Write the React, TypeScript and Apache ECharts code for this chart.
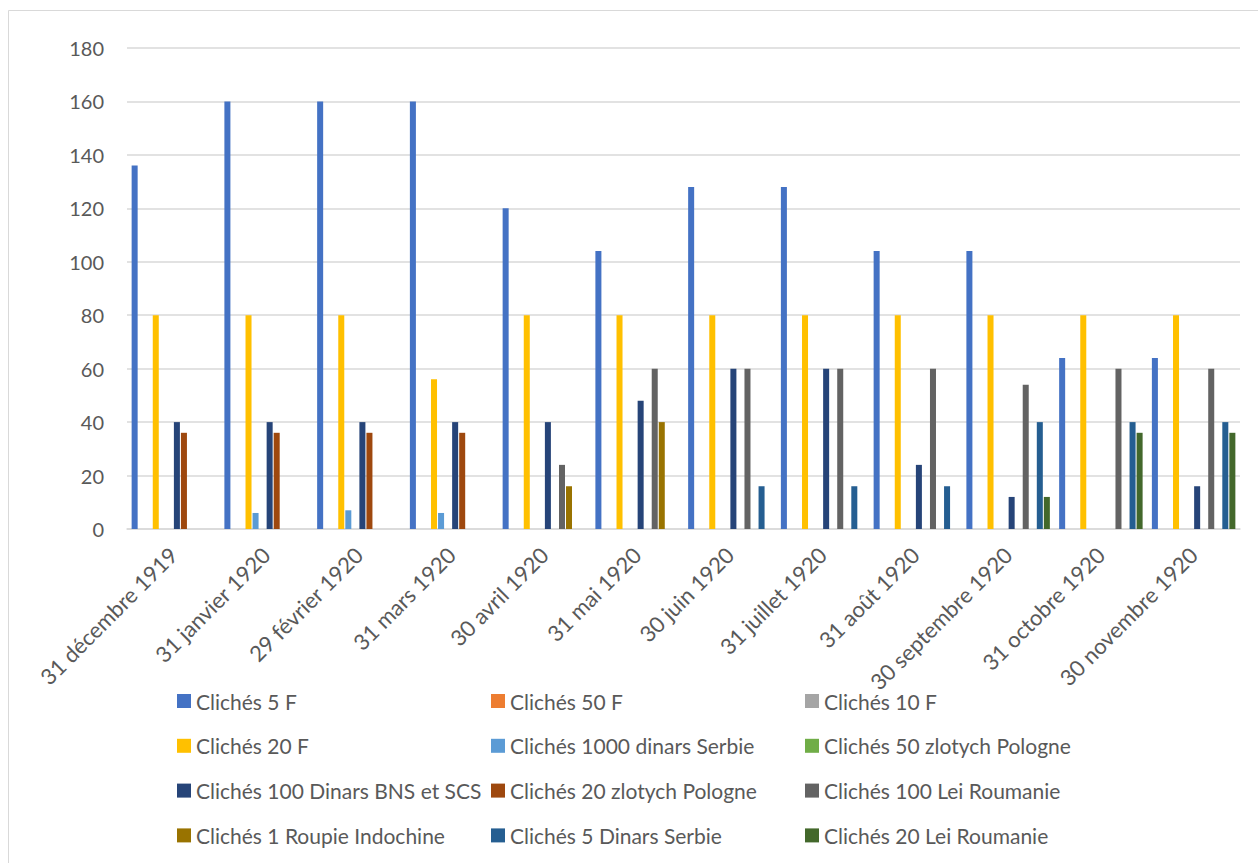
import React, { useEffect, useRef } from "react";
import * as echarts from "echarts";

const categories = [
  "31 décembre 1919",
  "31 janvier 1920",
  "29 février 1920",
  "31 mars 1920",
  "30 avril 1920",
  "31 mai 1920",
  "30 juin 1920",
  "31 juillet 1920",
  "31 août 1920",
  "30 septembre 1920",
  "31 octobre 1920",
  "30 novembre 1920",
];

const seriesNames = [
  "Clichés 5 F",
  "Clichés 50 F",
  "Clichés 10 F",
  "Clichés 20 F",
  "Clichés 1000 dinars Serbie",
  "Clichés 50 zlotych Pologne",
  "Clichés 100 Dinars BNS et SCS",
  "Clichés 20 zlotych Pologne",
  "Clichés 100 Lei Roumanie",
  "Clichés 1 Roupie Indochine",
  "Clichés 5 Dinars Serbie",
  "Clichés 20 Lei Roumanie",
];

const colors = [
  "#4472C4",
  "#ED7D31",
  "#A5A5A5",
  "#FFC000",
  "#5B9BD5",
  "#70AD47",
  "#264478",
  "#9E480E",
  "#636363",
  "#997300",
  "#255E91",
  "#43682B",
];

const cliches5F = [136, 160, 160, 160, 120, 104, 128, 128, 104, 104, 64, 64];
const cliches50F = [0, 0, 0, 0, 0, 0, 0, 0, 0, 0, 0, 0];
const cliches10F = [0, 0, 0, 0, 0, 0, 0, 0, 0, 0, 0, 0];
const cliches20F = [80, 80, 80, 56, 80, 80, 80, 80, 80, 80, 80, 80];
const cliches1000Dinars = [0, 6, 7, 6, 0, 0, 0, 0, 0, 0, 0, 0];
const cliches50Zlotych = [0, 0, 0, 0, 0, 0, 0, 0, 0, 0, 0, 0];
const cliches100DinarsBNS = [40, 40, 40, 40, 40, 48, 60, 60, 24, 12, 0, 16];
const cliches20Zlotych = [36, 36, 36, 36, 0, 0, 0, 0, 0, 0, 0, 0];
const cliches100Lei = [0, 0, 0, 0, 24, 60, 60, 60, 60, 54, 60, 60];
const cliches1Roupie = [0, 0, 0, 0, 16, 40, 0, 0, 0, 0, 0, 0];
const cliches5Dinars = [0, 0, 0, 0, 0, 0, 16, 16, 16, 40, 40, 40];
const cliches20Lei = [0, 0, 0, 0, 0, 0, 0, 0, 0, 12, 36, 36];

const seriesValues = [
  cliches5F,
  cliches50F,
  cliches10F,
  cliches20F,
  cliches1000Dinars,
  cliches50Zlotych,
  cliches100DinarsBNS,
  cliches20Zlotych,
  cliches100Lei,
  cliches1Roupie,
  cliches5Dinars,
  cliches20Lei,
];

const yTicks = { min: 0, max: 180, interval: 20 };

export default function App() {
  const ref = useRef<HTMLDivElement>(null);

  useEffect(() => {
    if (!ref.current) return;
    const chart = echarts.init(ref.current, null, { renderer: "svg" });
    const font = "Lato, 'Open Sans', sans-serif";
    const textColor = "#595959";

    const legends = seriesNames.map((name, i) => {
      const row = Math.floor(i / 3);
      const col = i % 3;
      return {
        show: true,
        orient: "horizontal",
        left: 177 + col * 314,
        top: 690.5 + row * 44.8,
        padding: 0,
        itemWidth: 14,
        itemHeight: 14,
        itemGap: 0,
        icon: "rect",
        selectedMode: false,
        data: [name],
        textStyle: {
          color: textColor,
          fontSize: 21,
          fontFamily: font,
          padding: [0, 0, 0, 0],
        },
      };
    });

    chart.setOption({
      animation: false,
      color: colors,
      graphic: [
        {
          type: "rect",
          shape: { x: 8.5, y: 10.5, width: 1300, height: 900 },
          style: { fill: "none", stroke: "#D9D9D9", lineWidth: 1 },
          silent: true,
        },
      ],
      grid: { left: 127, right: 18, top: 48, bottom: 334, containLabel: false },
      legend: legends,
      xAxis: {
        type: "category",
        data: categories,
        axisLine: { show: true, lineStyle: { color: "#D9D9D9", width: 1.5 } },
        axisTick: { show: false },
        axisLabel: {
          rotate: 45,
          interval: 0,
          color: textColor,
          fontSize: 22,
          fontFamily: font,
          margin: 22,
        },
      },
      yAxis: {
        type: "value",
        min: yTicks.min,
        max: yTicks.max,
        interval: yTicks.interval,
        axisLine: { show: false },
        axisTick: { show: false },
        splitLine: { lineStyle: { color: "#D9D9D9", width: 1.5 } },
        axisLabel: {
          color: textColor,
          fontSize: 20,
          fontFamily: font,
          margin: 23,
        },
      },
      series: seriesNames.map((name, i) => ({
        name,
        type: "bar",
        data: seriesValues[i],
        barGap: "17%",
        barCategoryGap: "10%",
        itemStyle: { color: colors[i] },
      })),
    });

    return () => chart.dispose();
  }, []);

  return (
    <div
      ref={ref}
      style={{
        position: "fixed",
        left: 0,
        top: 0,
        width: 1258,
        height: 863,
        background: "#ffffff",
      }}
    />
  );
}
